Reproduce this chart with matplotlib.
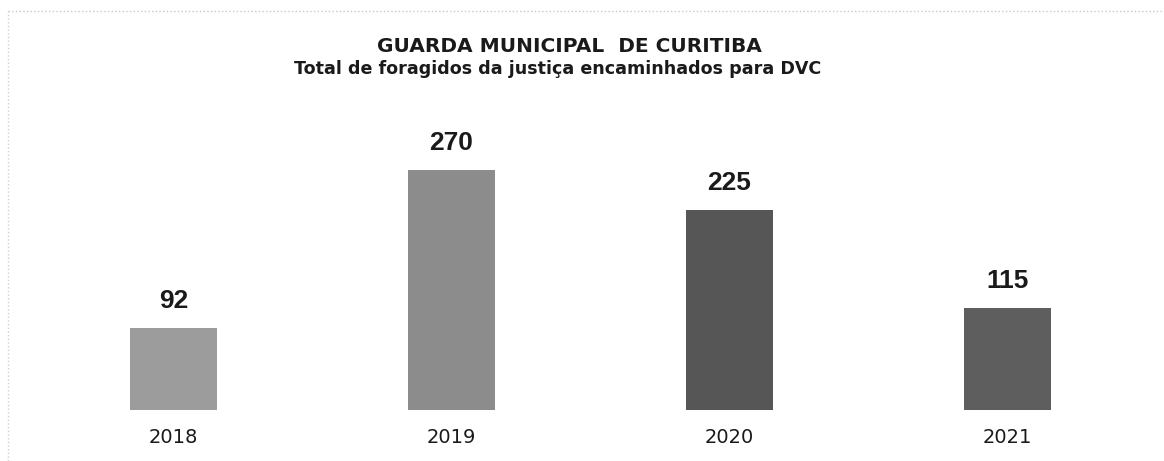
import matplotlib.pyplot as plt
from matplotlib.lines import Line2D

plt.rcParams['font.family'] = ['Liberation Sans', 'DejaVu Sans']

# data
years = ['2018', '2019', '2020', '2021']
totals = [92, 270, 225, 115]
bar_colors = ['#9c9c9c', '#8c8c8c', '#565656', '#5e5e5e']

fig = plt.figure(figsize=(11.64, 4.61), dpi=100)
fig.patch.set_facecolor('white')

# axes placed so the baseline sits near the bottom of the picture
ax = fig.add_axes([34.5 / 1164, 51 / 461, 1112 / 1164, 280 / 461])
x = range(len(years))
bars = ax.bar(x, totals, width=0.31, color=bar_colors)
ax.set_xlim(-0.5, 3.5)
ax.set_ylim(0, 315)

for b, v in zip(bars, totals):
    ax.text(b.get_x() + b.get_width() / 2, v + 17, str(v),
            ha='center', va='bottom', fontsize=19, fontweight='bold', color='#1a1a1a')

ax.set_xticks(list(x))
ax.set_xticklabels(years, fontsize=14, color='#1a1a1a', family='DejaVu Sans')
ax.tick_params(axis='x', length=0, pad=13)
ax.set_yticks([])
for s in ax.spines.values():
    s.set_visible(False)

# title, two lines
fig.text(569 / 1164, 1 - 47 / 461, 'GUARDA MUNICIPAL  DE CURITIBA', ha='center', va='center',
         fontsize=14.5, fontweight='bold', color='#1a1a1a', family='DejaVu Sans')
fig.text(558 / 1164, 1 - 69 / 461, 'Total de foragidos da justiça encaminhados para DVC',
         ha='center', va='center', fontsize=12.6, fontweight='bold', color='#1a1a1a',
         family='DejaVu Sans')

# faint dotted border left over from the scan (top and left edges)
fig.add_artist(Line2D([8 / 1164, 1], [1 - 11 / 461, 1 - 11 / 461], transform=fig.transFigure,
                      color='#c8c8c8', lw=1, ls=':'))
fig.add_artist(Line2D([8 / 1164, 8 / 1164], [0, 1 - 11 / 461], transform=fig.transFigure,
                      color='#d0d0d0', lw=1, ls=':'))

plt.savefig('out.png', dpi=100)
